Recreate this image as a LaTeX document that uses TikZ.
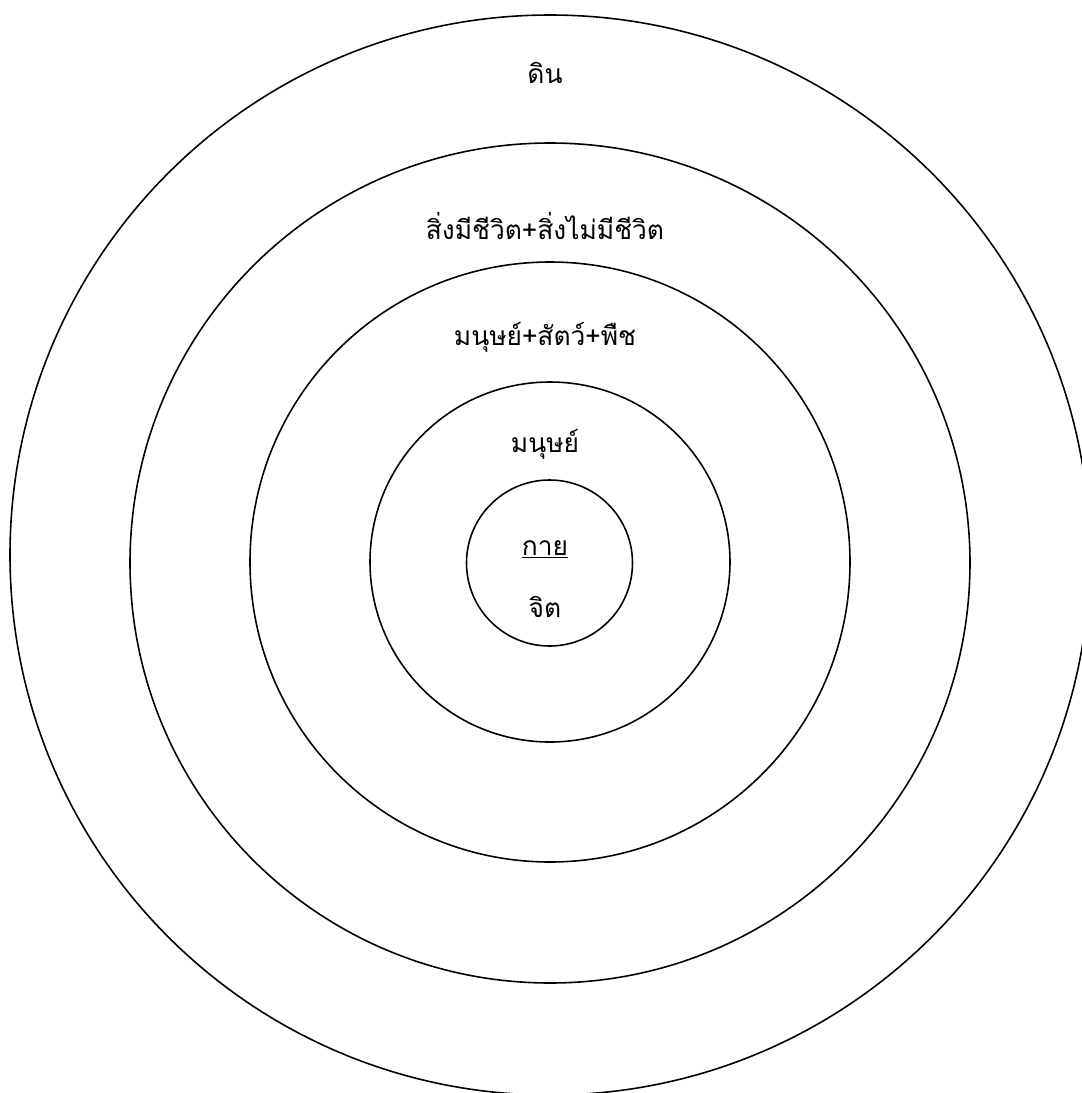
\documentclass[tikz,border=0pt]{standalone}
\usepackage{fontspec}
\newfontfamily\thaifont[Script=Thai]{Loma}
\begin{document}
\begin{tikzpicture}[x=0.02cm,y=-0.02cm,
  ring/.style={draw=black,line width=0.9pt},
  lbl/.style={anchor=base,inner sep=0pt,font=\thaifont\fontsize{15}{18}\selectfont}]
\useasboundingbox (0,0) rectangle (1082,1093);
\begin{scope}
\clip (0,0) rectangle (1082,1093);
\draw[ring] (550,555) circle (540);
\end{scope}
\draw[ring] (550,563) circle (420);
\draw[ring] (550,562) circle (300);
\draw[ring] (550,562) circle (180);
\draw[ring] (549.5,563) circle (83);
\node[lbl] (din) at (545,83) {ดิน};
\node[lbl] (living) at (545,239) {สิ่งมีชีวิต+สิ่งไม่มีชีวิต};
\node[lbl] (hap) at (545,345) {มนุษย์+สัตว์+พืช};
\node[lbl] (human) at (545,452) {มนุษย์};
\node[lbl] (kai) at (545,555) {\underline{กาย}};
\node[lbl] (chit) at (545,617) {จิต};
\end{tikzpicture}
\end{document}
